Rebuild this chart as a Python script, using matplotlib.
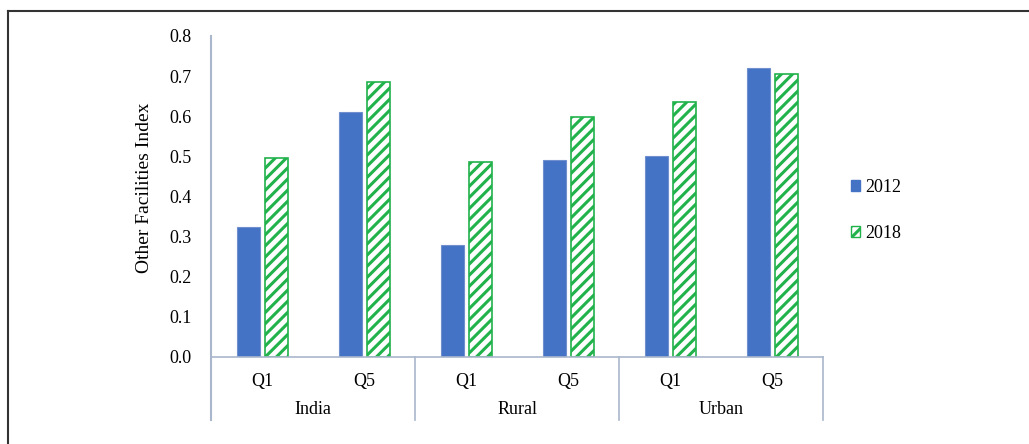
import matplotlib.pyplot as plt
import matplotlib.transforms as mtransforms
from matplotlib.patches import Patch
import numpy as np

plt.rcParams['font.family'] = ['Liberation Serif', 'DejaVu Serif']
plt.rcParams['hatch.linewidth'] = 2.2

# data
groups = ['India', 'Rural', 'Urban']
quintiles = ['Q1', 'Q5', 'Q1', 'Q5', 'Q1', 'Q5']
vals_2012 = [0.325, 0.61, 0.279, 0.491, 0.501, 0.72]
vals_2018 = [0.496, 0.685, 0.486, 0.598, 0.635, 0.705]
yticks = [0.0, 0.1, 0.2, 0.3, 0.4, 0.5, 0.6, 0.7, 0.8]

blue = '#4472C4'
green = '#21B24B'
spine_col = '#A9B6CC'

fig = plt.figure(figsize=(10.29, 4.44), dpi=100)
ax = fig.add_axes([0.205, 0.196, 0.595, 0.723])

x = np.arange(len(quintiles))
w = 0.225
ax.bar(x - 0.135, vals_2012, w, color=blue, edgecolor='#6F8FCF', linewidth=0.8)
ax.bar(x + 0.14, vals_2018, w, color='white', edgecolor=green, hatch='///', linewidth=1.2)

ax.set_xlim(-0.5, 5.5)
ax.set_ylim(0, 0.8)
ax.set_yticks(yticks)
ax.set_yticklabels([f'{v:.1f}' for v in yticks], fontsize=13)
ax.tick_params(axis='y', length=0, pad=14)
ax.set_xticks([])
for s in ['top', 'right']:
    ax.spines[s].set_visible(False)
ax.spines['bottom'].set_color(spine_col)
ax.spines['bottom'].set_linewidth(1.2)
ax.spines['left'].set_visible(False)

ax.set_ylabel('Other Facilities Index', fontsize=14)
ax.yaxis.set_label_coords(-0.095, 0.526)

# category axis with groups
trans = mtransforms.blended_transform_factory(ax.transData, ax.transAxes)
ax.plot([-0.5, -0.5], [-0.196, 1.0], color=spine_col, lw=1.5, transform=trans, clip_on=False)
for b in [1.5, 3.5, 5.5]:
    ax.plot([b, b], [-0.196, 0], color=spine_col, lw=1.2, transform=trans, clip_on=False)
for i, q in enumerate(quintiles):
    ax.text(i, -0.075, q, ha='center', va='center', fontsize=13, transform=trans)
for j, g in enumerate(groups):
    ax.text(2 * j + 0.5, -0.165, g, ha='center', va='center', fontsize=13, transform=trans)

handles = [Patch(facecolor=blue, edgecolor=blue, label='2012'),
           Patch(facecolor='white', edgecolor=green, hatch='///', label='2018')]
fig.legend(handles=handles, loc='center left', bbox_to_anchor=(0.8115, 0.526),
           frameon=False, fontsize=13, handlelength=0.5, handleheight=0.5,
           handletextpad=0.3, labelspacing=1.6)

# outer frame (top and left only)
fig.add_artist(plt.Line2D([8 / 1029, 8 / 1029], [0, 1 - 11 / 444], color='#333333', lw=1.5,
                          transform=fig.transFigure))
fig.add_artist(plt.Line2D([8 / 1029, 1], [1 - 11 / 444, 1 - 11 / 444], color='#333333', lw=1.5,
                          transform=fig.transFigure))

fig.savefig('out.png', dpi=100)
